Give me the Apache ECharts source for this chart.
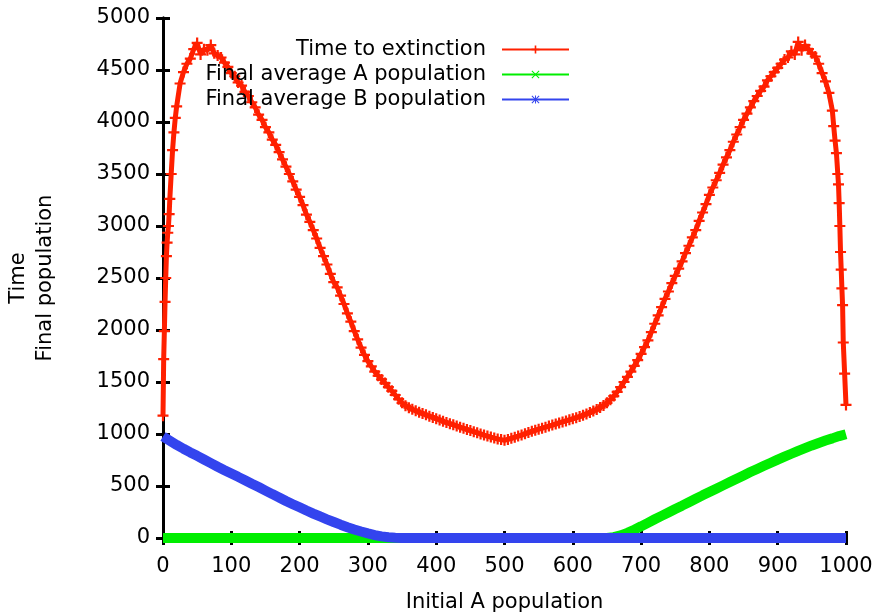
<!DOCTYPE html>
<html><head><meta charset="utf-8">
<script src="https://cdn.jsdelivr.net/npm/echarts@6/dist/echarts.min.js"></script>
<style>html,body{margin:0;padding:0;background:#fff}#c{width:878px;height:615px}</style>
</head><body><div id="c"></div>
<script>
const seriesNames = ['Time to extinction', 'Final average A population', 'Final average B population'];
const xTitle = 'Initial A population';
const yTitle = 'Time\nFinal population';
const xTicks = [0,100,200,300,400,500,600,700,800,900,1000];
const yTicks = [0,500,1000,1500,2000,2500,3000,3500,4000,4500,5000];

const redX = [0,1,2,3,4,5,6,7,8,9,10,12,14,16,18,20,25,30,35,40,45,50,55,60,65,70,75,80,85,90,95,
 100,105,110,115,120,125,130,135,140,145,150,155,160,165,170,175,180,185,190,195,
 200,205,210,215,220,225,230,235,240,245,250,255,260,265,270,275,280,285,290,295,
 300,305,310,315,320,325,330,335,340,345,350,355,360,365,370,375,380,385,390,395,
 400,405,410,415,420,425,430,435,440,445,450,455,460,465,470,475,480,485,490,495,
 500,505,510,515,520,525,530,535,540,545,550,555,560,565,570,575,580,585,590,595,
 600,605,610,615,620,625,630,635,640,645,650,655,660,665,670,675,680,685,690,695,
 700,705,710,715,720,725,730,735,740,745,750,755,760,765,770,775,780,785,790,795,
 800,805,810,815,820,825,830,835,840,845,850,855,860,865,870,875,880,885,890,895,
 900,905,910,915,920,925,930,935,940,945,950,955,960,965,970,975,980,982,984,986,988,989,
 990,991,992,993,994,995,996,998,1000];
const redY = [1176,1720,1990,2270,2500,2710,2840,2935,3000,3115,3260,3500,3730,3900,4040,4150,4370,4480,4560,4610,4700,4760,4650,4700,4690,4740,4660,4640,4620,4570,4530,
 4470,4440,4380,4350,4290,4250,4190,4140,4070,4020,3950,3900,3830,3780,3710,3640,3570,3500,3430,3350,
 3280,3200,3110,3040,2960,2880,2790,2710,2630,2540,2460,2410,2330,2250,2160,2080,1990,1910,1830,1760,
 1700,1650,1600,1560,1525,1490,1450,1415,1375,1335,1300,1272,1253,1237,1224,1210,1196,1184,1171,1159,
 1147,1135,1123,1110,1099,1088,1077,1066,1055,1044,1033,1022,1011,1000,990,980,970,961,952,946,
 940,948,958,969,980,990,1002,1014,1026,1036,1046,1056,1066,1076,1086,1096,1106,1116,1126,1136,
 1146,1157,1168,1180,1193,1206,1220,1236,1254,1275,1300,1330,1365,1405,1450,1500,1550,1600,1655,1710,
 1770,1835,1900,1980,2060,2140,2220,2300,2370,2450,2520,2590,2660,2740,2810,2890,2960,3050,3130,3210,
 3300,3370,3440,3510,3590,3660,3730,3810,3880,3950,4020,4080,4140,4200,4250,4300,4340,4400,4440,4480,
 4520,4560,4600,4620,4680,4650,4770,4690,4740,4700,4660,4630,4560,4470,4390,4280,4110,3960,3820,3700,3500,3400,
 3220,3000,2750,2580,2400,2240,1880,1580,1280];

const greenX = [0,100,200,300,400,500,600,650,660,670,680,690,700,710,720,730,740,750,760,770,780,790,
 800,810,820,830,840,850,860,870,880,890,900,910,920,930,940,950,960,970,980,990,1000];
const greenY = [0,0,0,0,0,0,0,0,8,25,50,80,112,146,180,213,246,279,311,344,377,410,
 442,474,506,538,570,602,634,664,694,724,754,782,810,838,864,890,914,937,958,980,998];

const blueX = [0,10,20,30,40,50,60,70,80,90,100,110,120,130,140,150,160,170,180,190,
 200,210,220,230,240,250,260,270,280,290,300,310,320,330,340,350,400,500,600,700,800,900,1000];
const blueY = [975,935,895,858,823,790,755,720,685,652,620,588,555,522,490,456,422,390,356,325,
 295,264,235,207,180,154,128,104,82,62,44,28,16,7,2,0,0,0,0,0,0,0,0];

const FONT = 'DejaVu Sans';
const RED = '#ff2000', GREEN = '#00ee00', BLUE = '#3344ee';
const plusPath = 'path://M4,0H6V4H10V6H6V10H4V6H0V4H4Z';
const crossPath = 'path://M0,0.9L0.9,0L10,9.1L9.1,10Z M9.1,0L10,0.9L0.9,10L0,9.1Z';
const starPath = 'path://M0,0.9L0.9,0L10,9.1L9.1,10Z M9.1,0L10,0.9L0.9,10L0,9.1Z M4.4,0H5.6V10H4.4Z M0,4.4H10V5.6H0Z';

const zip = (xs, ys) => xs.map((x, i) => [x, ys[i]]);
const fmt = v => String(v);

const chart = echarts.init(document.getElementById('c'));
const axisLine = {show: true, lineStyle: {color: '#000', width: 3}};
const tick = {show: true, inside: true, length: 7, lineStyle: {color: '#000', width: 3}};
const lbl = {color: '#000', fontFamily: FONT, fontSize: 21, formatter: fmt};

function legendFor(name, top, color) {
  return {
    data: [{name: name, itemStyle: {color: color}, lineStyle: {color: color, width: 2}}],
    right: 308, top: top, align: 'right', orient: 'vertical', padding: 0,
    itemWidth: 67, itemHeight: 10, selectedMode: false,
    textStyle: {color: '#000', fontFamily: FONT, fontSize: 21, padding: [0, 11, 0, 0]}
  };
}

chart.setOption({
  animation: false,
  backgroundColor: '#fff',
  grid: {left: 163, right: 32, top: 18, bottom: 77, outerBoundsMode: 'none', containLabel: false},
  legend: [
    legendFor(seriesNames[0], 39, RED),
    legendFor(seriesNames[1], 64, GREEN),
    legendFor(seriesNames[2], 89, BLUE)
  ],
  xAxis: [
    {type: 'value', min: xTicks[0], max: xTicks[xTicks.length - 1], interval: xTicks[1] - xTicks[0],
     name: xTitle, nameLocation: 'middle', nameGap: 54,
     nameTextStyle: {color: '#000', fontFamily: FONT, fontSize: 21},
     axisLine: axisLine, axisTick: tick, splitLine: {show: false},
     axisLabel: Object.assign({margin: 18}, lbl)},
    {type: 'value', position: 'top', min: xTicks[0], max: xTicks[xTicks.length - 1], interval: xTicks[1] - xTicks[0],
     axisLine: axisLine, axisTick: tick, splitLine: {show: false}, axisLabel: {show: false}}
  ],
  yAxis: [
    {type: 'value', min: yTicks[0], max: yTicks[yTicks.length - 1], interval: yTicks[1] - yTicks[0],
     name: yTitle, nameLocation: 'middle', nameRotate: 90, nameGap: 104,
     nameTextStyle: {color: '#000', fontFamily: FONT, fontSize: 21, lineHeight: 27, align: 'center'},
     axisLine: axisLine, axisTick: tick, splitLine: {show: false},
     axisLabel: Object.assign({margin: 13}, lbl)},
    {type: 'value', position: 'right', min: yTicks[0], max: yTicks[yTicks.length - 1], interval: yTicks[1] - yTicks[0],
     axisLine: axisLine, axisTick: tick, splitLine: {show: false}, axisLabel: {show: false}}
  ],
  series: [
    {name: seriesNames[0], type: 'line', data: zip(redX, redY), symbol: plusPath, symbolSize: 11,
     showSymbol: true, showAllSymbol: true, itemStyle: {color: RED}, lineStyle: {color: RED, width: 5}, z: 3},
    {name: seriesNames[1], type: 'line', data: zip(greenX, greenY), symbol: crossPath, symbolSize: 9,
     showSymbol: false, itemStyle: {color: GREEN}, lineStyle: {color: GREEN, width: 10}, z: 4},
    {name: seriesNames[2], type: 'line', data: zip(blueX, blueY), symbol: starPath, symbolSize: 9,
     showSymbol: false, itemStyle: {color: BLUE}, lineStyle: {color: BLUE, width: 10}, z: 5}
  ]
});
</script></body></html>
